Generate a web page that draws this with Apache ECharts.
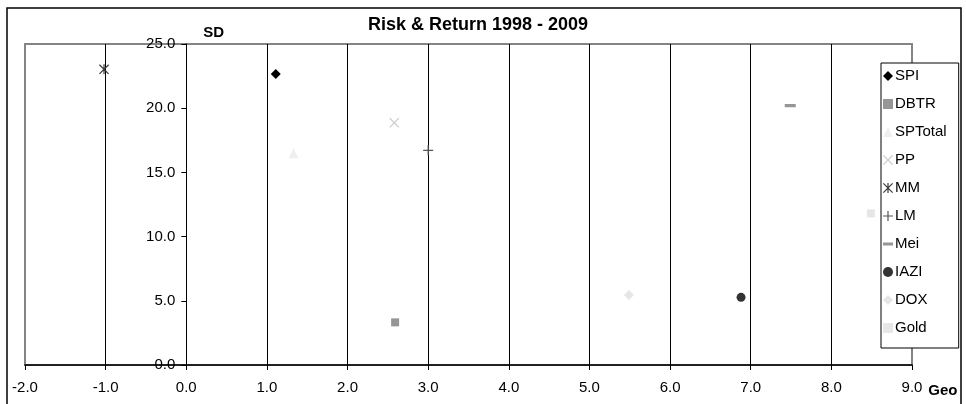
<!DOCTYPE html>
<html>
<head>
<meta charset="utf-8">
<title>Risk & Return 1998 - 2009</title>
<script src="https://cdn.jsdelivr.net/npm/echarts@6/dist/echarts.min.js"></script>
<style>
  html, body { margin: 0; padding: 0; background: #fff; }
  #chart { width: 966px; height: 404px; }
</style>
</head>
<body>
<div id="chart"></div>
<script>
// Asset classes, geometric return (% p.a.) and standard deviation (%)
const assetNames = ['SPI', 'DBTR', 'SPTotal', 'PP', 'MM', 'LM', 'Mei', 'IAZI', 'DOX', 'Gold'];
const geoReturn  = [1.11, 2.59, 1.33, 2.58, -1.02, 3.00, 7.49, 6.88, 5.49, 8.49];
const stdDev     = [22.66, 3.32, 16.49, 18.87, 23.03, 16.72, 20.20, 5.27, 5.45, 11.81];

// Axis ranges and tick spacing
const xRange = [-2, 9];
const xStep = 1;
const yRange = [0, 25];
const yStep = 5;

// Marker shapes (square bounding boxes so legend icons keep their proportions)
const plusPath  = 'path://M4.4,0 H5.6 V4.4 H10 V5.6 H5.6 V10 H4.4 V5.6 H0 V4.4 H4.4 Z';
const crossPath = 'path://M0,0.8 L0.8,0 L5,4.2 L9.2,0 L10,0.8 L5.8,5 L10,9.2 L9.2,10 L5,5.8 L0.8,10 L0,9.2 L4.2,5 Z';
const starPath  = 'path://M4.4,0 H5.6 V10 H4.4 Z M0,0.85 L0.85,0 L10,9.15 L9.15,10 Z M9.15,0 L10,0.85 L0.85,10 L0,9.15 Z';
const dashPath  = 'path://M0,0 L0.01,0 L0,0.01 Z M0,3.6 H10 V6.4 H0 Z M10,10 L9.99,10 L10,9.99 Z';

const markerStyles = {
  SPI:     { symbol: 'diamond',  size: 10, color: '#000000' },
  DBTR:    { symbol: 'rect',     size: 8,  color: '#969696' },
  SPTotal: { symbol: 'triangle', size: 10, color: '#efefef' },
  PP:      { symbol: crossPath,  size: 10, color: '#c8c8c8' },
  MM:      { symbol: starPath,   size: 10, color: '#3a3a3a' },
  LM:      { symbol: plusPath,   size: 10, color: '#555555' },
  Mei:     { symbol: dashPath,   size: 11, color: '#969696' },
  IAZI:    { symbol: 'circle',   size: 9,  color: '#333333' },
  DOX:     { symbol: 'diamond',  size: 10, color: '#e6e6e6' },
  Gold:    { symbol: 'rect',     size: 8,  color: '#e6e6e6' }
};

const FONT = "'Liberation Sans', Arial, sans-serif";

const series = assetNames.map(function (name, i) {
  const st = markerStyles[name];
  return {
    name: name,
    type: 'scatter',
    symbol: st.symbol,
    symbolSize: st.size,
    itemStyle: { color: st.color, opacity: 1 },
    emphasis: { disabled: true },
    data: [[geoReturn[i], stdDev[i]]],
    z: 3
  };
});

const chart = echarts.init(document.getElementById('chart'), null, { renderer: 'canvas' });

chart.setOption({
  animation: false,
  backgroundColor: '#ffffff',
  textStyle: { fontFamily: FONT },
  title: {
    text: 'Risk & Return 1998 - 2009',
    left: 368,
    top: 16,
    padding: 0,
    textStyle: { fontFamily: FONT, fontSize: 18, fontWeight: 'bold', color: '#000' }
  },
  graphic: [{
    type: 'rect',
    z: -10,
    shape: { x: 7, y: 8, width: 954, height: 420 },
    style: { fill: 'none', stroke: '#000', lineWidth: 1.5 }
  }],
  grid: {
    left: 25,
    top: 44,
    width: 887,
    height: 321,
    containLabel: false,
    outerBoundsMode: 'none',
    show: true,
    borderColor: '#858585',
    borderWidth: 2,
    backgroundColor: 'transparent'
  },
  legend: {
    orient: 'vertical',
    left: 881,
    top: 63,
    padding: [5, 12, 12, 2],
    itemWidth: 10,
    itemHeight: 10,
    itemGap: 12,
    borderColor: '#000',
    borderWidth: 1,
    backgroundColor: '#fff',
    selectedMode: false,
    data: assetNames,
    textStyle: { fontFamily: FONT, fontSize: 15, color: '#000', lineHeight: 16, padding: [0, 0, 0, -3] }
  },
  xAxis: {
    type: 'value',
    min: xRange[0],
    max: xRange[1],
    interval: xStep,
    name: 'Geo',
    nameLocation: 'end',
    nameGap: 16,
    nameTextStyle: { fontFamily: FONT, fontSize: 15, fontWeight: 'bold', color: '#000', verticalAlign: 'top', padding: [18, 0, 0, 0] },
    axisLine: { onZero: false, lineStyle: { color: '#000', width: 1.5 } },
    axisTick: { show: true, inside: false, length: 5, lineStyle: { color: '#000', width: 1 } },
    axisLabel: {
      margin: 15,
      fontFamily: FONT,
      fontSize: 15,
      color: '#000',
      showMinLabel: true,
      showMaxLabel: true,
      formatter: function (v) { return v.toFixed(1); }
    },
    splitLine: { show: true, showMinLine: false, showMaxLine: false, lineStyle: { color: '#000', width: 1 } }
  },
  yAxis: {
    type: 'value',
    position: 'left',
    offset: 0,
    min: yRange[0],
    max: yRange[1],
    interval: yStep,
    name: 'SD',
    nameLocation: 'end',
    nameGap: 4,
    nameTextStyle: { fontFamily: FONT, fontSize: 15, fontWeight: 'bold', color: '#000', align: 'left', padding: [0, 0, 0, 17] },
    axisLine: { show: true, onZero: false, lineStyle: { color: '#000', width: 1 } },
    axisTick: { show: true, inside: false, length: 5, lineStyle: { color: '#000', width: 1 } },
    axisLabel: {
      margin: 11,
      fontFamily: FONT,
      fontSize: 15,
      color: '#000',
      showMinLabel: true,
      showMaxLabel: true,
      formatter: function (v) { return v.toFixed(1); }
    },
    splitLine: { show: false }
  },
  series: series
});

// The SD axis crosses the return axis at 0: shift it there using the x scale
const zeroPx = chart.convertToPixel({ xAxisIndex: 0 }, 0);
const leftPx = chart.convertToPixel({ xAxisIndex: 0 }, xRange[0]);
chart.setOption({ yAxis: { offset: -(zeroPx - leftPx) } });
</script>
</body>
</html>
